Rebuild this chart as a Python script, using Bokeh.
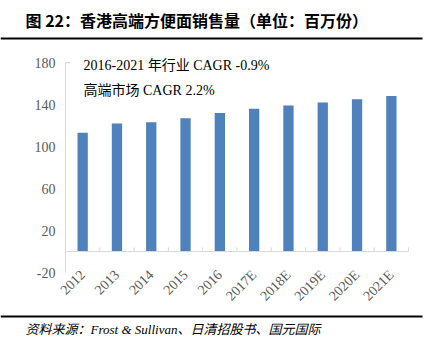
import math
from bokeh.plotting import figure
from bokeh.models import (Range1d, FixedTicker, Label, ColumnDataSource, BoxAnnotation,
                          LinearAxis)
from bokeh.embed import file_html
from bokeh.resources import INLINE

# ---- data ----
years = ["2012", "2013", "2014", "2015", "2016", "2017E", "2018E", "2019E", "2020E", "2021E"]
sales = [113, 122, 123, 127, 132, 136, 139, 142, 145, 148]
y_ticks = [-20, 20, 60, 100, 140, 180]
y_tick_labels = ["-20", "20", "60", "100", "140", "180"]
title_text = "图 22：香港高端方便面销售量（单位：百万份）"
note1 = "2016-2021 年行业 CAGR -0.9%"
note2 = "高端市场 CAGR 2.2%"
source_text = "资料来源：Frost & Sullivan、日清招股书、国元国际"

W, H = 429, 350
# plot area in canvas pixels
PX0, PX1 = 65, 408          # left / right of the category area
PY_TOP, PY_BOT = 62, 272    # canvas y of y_max / y_min
Y_MIN, Y_MAX = -20, 180
SERIF = "'Liberation Serif', 'Noto Sans CJK SC'"

n = len(years)
ppx = (PX1 - PX0) / n
ppy = (PY_BOT - PY_TOP) / (Y_MAX - Y_MIN)
x_range = Range1d(-PX0 / ppx, n + (W - PX1) / ppx)
y_range = Range1d(Y_MIN - (H - PY_BOT) / ppy, Y_MAX + PY_TOP / ppy)

p = figure(width=W, height=H, x_range=x_range, y_range=y_range,
           output_backend="svg", toolbar_location=None,
           x_axis_location=None, y_axis_location=None, min_border=0)
p.outline_line_color = None
p.grid.visible = False

centers = [i + 0.5 for i in range(n)]
src = ColumnDataSource(dict(x=centers, top=sales))
p.vbar(x="x", top="top", bottom=0, width=0.3, source=src, fill_color="#4F81BD", line_color=None)

# zero line and category boundary ticks
p.segment(x0=[0], y0=[0], x1=[n], y1=[0], line_color="#d9d9d9", line_width=1)
bounds = list(range(n + 1))
p.segment(x0=bounds, y0=[0] * len(bounds), x1=bounds, y1=[4 / ppy] * len(bounds),
          line_color="#d9d9d9", line_width=1)
# small tick at the top of the value axis
p.segment(x0=[0], y0=[Y_MAX], x1=[5 / ppx], y1=[Y_MAX], line_color="#d9d9d9", line_width=1)

# y axis
yax = LinearAxis(fixed_location=0, bounds=(Y_MIN, Y_MAX), ticker=FixedTicker(ticks=y_ticks),
                 major_label_overrides={t: s for t, s in zip(y_ticks, y_tick_labels)})
yax.axis_line_color = "#d9d9d9"
yax.major_tick_line_color = None
yax.minor_tick_line_color = None
yax.major_tick_out = 0
yax.major_tick_in = 0
yax.major_label_text_font = SERIF
yax.major_label_text_font_size = "14px"
yax.major_label_text_color = "#595959"
yax.major_label_standoff = 10
p.add_layout(yax, "left")

# x axis
xax = LinearAxis(fixed_location=Y_MIN, ticker=FixedTicker(ticks=centers),
                 major_label_overrides={c: y for c, y in zip(centers, years)})
xax.axis_line_color = None
xax.major_tick_line_color = None
xax.minor_tick_line_color = None
xax.major_tick_out = 0
xax.major_tick_in = 0
xax.major_label_orientation = math.pi / 4
xax.major_label_text_font = SERIF
xax.major_label_text_font_size = "14px"
xax.major_label_text_color = "#595959"
xax.major_label_standoff = 0
p.add_layout(xax, "below")


def sy(canvas_y):
    return H - canvas_y


p.add_layout(Label(x=83, y=sy(65), x_units="screen", y_units="screen", text=note1,
                   text_font=SERIF, text_font_size="14px", text_color="#000000",
                   text_baseline="middle"))
p.add_layout(Label(x=83, y=sy(90), x_units="screen", y_units="screen", text=note2,
                   text_font=SERIF, text_font_size="14px", text_color="#000000",
                   text_baseline="middle"))

# header
p.add_layout(Label(x=25, y=sy(19), x_units="screen", y_units="screen", text=title_text,
                   text_font="'Noto Sans CJK SC'", text_font_size="16px",
                   text_font_style="bold", text_color="#000000", text_baseline="middle"))
p.add_layout(BoxAnnotation(left=0, right=422, bottom=sy(39), top=sy(37),
                           left_units="screen", right_units="screen",
                           bottom_units="screen", top_units="screen",
                           fill_color="#000000", fill_alpha=1, line_color=None))
# footer
p.add_layout(BoxAnnotation(left=0, right=422, bottom=sy(317), top=sy(315),
                           left_units="screen", right_units="screen",
                           bottom_units="screen", top_units="screen",
                           fill_color="#000000", fill_alpha=1, line_color=None))
p.add_layout(Label(x=25, y=sy(329), x_units="screen", y_units="screen", text=source_text,
                   text_font=SERIF, text_font_size="13px", text_font_style="italic",
                   text_color="#000000", text_baseline="middle"))

open("out.html", "w").write(file_html(p, INLINE))
